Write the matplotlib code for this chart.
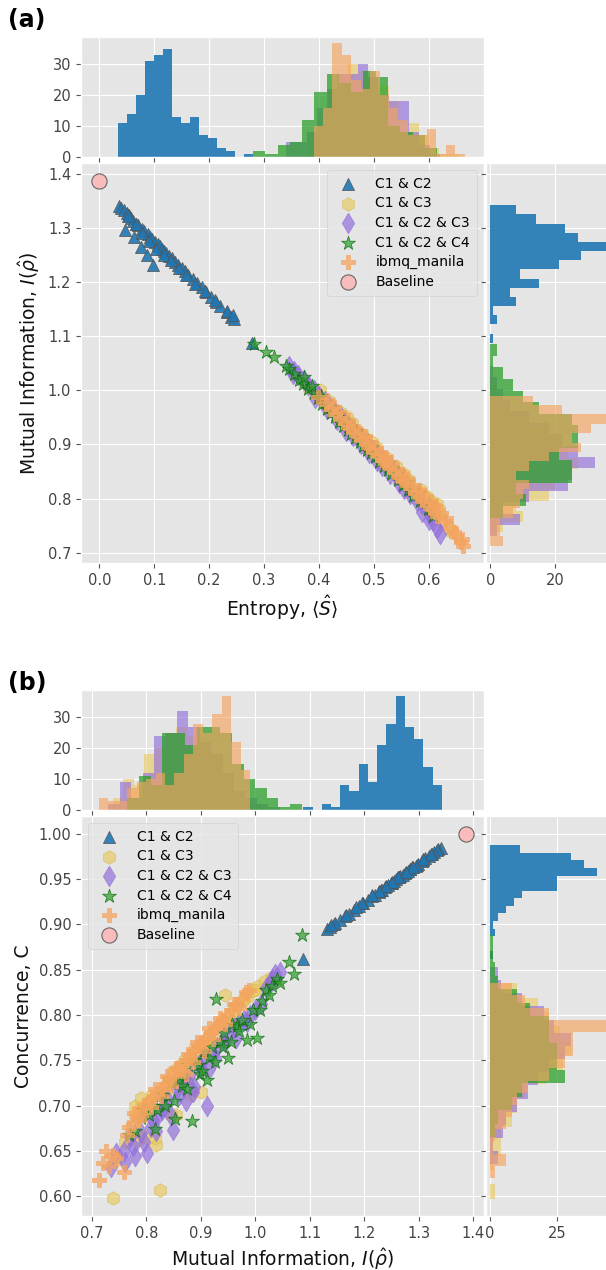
import matplotlib
matplotlib.use('Agg')
import matplotlib.pyplot as plt
import numpy as np

plt.style.use('ggplot')
plt.rcParams['font.family'] = ['DejaVu Sans']

# ---- scatter data: entropy S, mutual information MI, concurrence C ----
c12_S = [0.036, 0.040, 0.044, 0.047, 0.050, 0.054, 0.058, 0.062, 0.063, 0.066, 0.070, 0.075, 0.078, 0.082, 0.086,
         0.088, 0.092, 0.096, 0.098, 0.102, 0.106, 0.110, 0.114, 0.118, 0.122, 0.127, 0.132, 0.138, 0.144, 0.150,
         0.156, 0.162, 0.170, 0.178, 0.186, 0.195, 0.204, 0.212, 0.220, 0.232, 0.240, 0.245, 0.278,
         0.052, 0.066, 0.078, 0.090, 0.104, 0.118, 0.130, 0.145, 0.158, 0.175, 0.192, 0.210, 0.232, 0.243]
c12_MI = [1.340, 1.336, 1.333, 1.297, 1.328, 1.324, 1.318, 1.312, 1.283, 1.308, 1.305, 1.264, 1.298, 1.294, 1.250,
          1.288, 1.284, 1.280, 1.231, 1.274, 1.270, 1.266, 1.262, 1.258, 1.254, 1.249, 1.244, 1.238, 1.232, 1.226,
          1.220, 1.214, 1.206, 1.198, 1.190, 1.181, 1.172, 1.164, 1.156, 1.144, 1.136, 1.131, 1.088,
          1.322, 1.308, 1.290, 1.276, 1.262, 1.250, 1.240, 1.226, 1.214, 1.196, 1.184, 1.166, 1.146, 1.139]
c12_C = [0.985, 0.983, 0.982, 0.966, 0.980, 0.978, 0.976, 0.973, 0.961, 0.971, 0.970, 0.952, 0.967, 0.965, 0.946,
         0.963, 0.961, 0.959, 0.938, 0.957, 0.955, 0.953, 0.952, 0.950, 0.948, 0.946, 0.944, 0.941, 0.938, 0.936,
         0.933, 0.931, 0.927, 0.924, 0.920, 0.916, 0.912, 0.909, 0.905, 0.900, 0.897, 0.895, 0.862,
         0.978, 0.972, 0.964, 0.958, 0.952, 0.947, 0.943, 0.937, 0.932, 0.924, 0.919, 0.911, 0.902, 0.899]

c13_S = [0.642, 0.636, 0.622, 0.612, 0.601, 0.596, 0.592, 0.583, 0.572, 0.565, 0.560, 0.553, 0.545, 0.536, 0.530,
         0.522, 0.515, 0.505, 0.498, 0.495, 0.484, 0.477, 0.470, 0.462, 0.450, 0.441, 0.432, 0.420, 0.412, 0.401,
         0.392, 0.382, 0.370, 0.356,
         0.619, 0.604, 0.594, 0.586, 0.564, 0.554, 0.541, 0.524, 0.504, 0.496, 0.479, 0.460, 0.451, 0.439, 0.419,
         0.401, 0.614]
c13_MI = [0.738, 0.745, 0.760, 0.772, 0.780, 0.785, 0.790, 0.800, 0.810, 0.818, 0.825, 0.830, 0.840, 0.848, 0.855,
          0.862, 0.870, 0.880, 0.885, 0.890, 0.900, 0.908, 0.915, 0.925, 0.935, 0.945, 0.955, 0.965, 0.975, 0.985,
          0.995, 1.005, 1.018, 1.030,
          0.780, 0.795, 0.805, 0.815, 0.835, 0.845, 0.860, 0.875, 0.895, 0.905, 0.920, 0.940, 0.950, 0.960, 0.980,
          1.000, 0.790]
c13_C = [0.598, 0.640, 0.660, 0.668, 0.690, 0.662, 0.698, 0.700, 0.712, 0.656, 0.607, 0.716, 0.728, 0.738, 0.690,
         0.745, 0.750, 0.712, 0.758, 0.764, 0.715, 0.772, 0.778, 0.785, 0.790, 0.822, 0.800, 0.810, 0.815, 0.820,
         0.826, 0.832, 0.838, 0.842,
         0.700, 0.666, 0.705, 0.664, 0.722, 0.690, 0.740, 0.726, 0.760, 0.768, 0.770, 0.795, 0.790, 0.805, 0.818,
         0.828, 0.708]

c123_S = [0.620, 0.615, 0.608, 0.602, 0.598, 0.588, 0.582, 0.570, 0.562, 0.553, 0.546, 0.538, 0.532, 0.521, 0.516,
          0.506, 0.500, 0.490, 0.482, 0.476, 0.468, 0.458, 0.448, 0.440, 0.430, 0.420, 0.410, 0.400, 0.390, 0.380,
          0.372, 0.362, 0.355, 0.345,
          0.600, 0.588, 0.578, 0.566, 0.554, 0.546, 0.529, 0.515, 0.506, 0.491, 0.476, 0.462, 0.450, 0.433, 0.414,
          0.393, 0.353]
c123_MI = [0.735, 0.745, 0.758, 0.770, 0.780, 0.790, 0.802, 0.812, 0.822, 0.832, 0.840, 0.848, 0.856, 0.865, 0.872,
           0.880, 0.888, 0.896, 0.905, 0.912, 0.920, 0.930, 0.940, 0.950, 0.960, 0.970, 0.980, 0.990, 1.000, 1.010,
           1.020, 1.028, 1.036, 1.045,
           0.760, 0.775, 0.795, 0.808, 0.818, 0.828, 0.845, 0.860, 0.870, 0.885, 0.900, 0.915, 0.925, 0.945, 0.965,
           0.985, 1.030]
c123_C = [0.632, 0.648, 0.650, 0.665, 0.644, 0.670, 0.648, 0.684, 0.690, 0.700, 0.706, 0.673, 0.718, 0.724, 0.705,
          0.735, 0.721, 0.745, 0.752, 0.700, 0.758, 0.765, 0.772, 0.778, 0.786, 0.790, 0.795, 0.800, 0.806, 0.812,
          0.830, 0.836, 0.845, 0.848,
          0.638, 0.655, 0.660, 0.676, 0.672, 0.695, 0.688, 0.712, 0.730, 0.715, 0.742, 0.740, 0.752, 0.770, 0.775,
          0.792, 0.840]

c124_S = [0.608, 0.598, 0.584, 0.572, 0.562, 0.553, 0.543, 0.532, 0.526, 0.518, 0.510, 0.502, 0.494, 0.488, 0.480,
          0.474, 0.466, 0.458, 0.452, 0.444, 0.436, 0.430, 0.422, 0.414, 0.406, 0.398, 0.390, 0.380, 0.370, 0.364,
          0.354, 0.346, 0.318, 0.303, 0.282, 0.340,
          0.600, 0.582, 0.570, 0.561, 0.543, 0.526, 0.520, 0.497, 0.489, 0.478, 0.467, 0.452, 0.437, 0.423, 0.404,
          0.388, 0.372]
c124_MI = [0.768, 0.780, 0.795, 0.805, 0.815, 0.825, 0.835, 0.845, 0.852, 0.860, 0.868, 0.876, 0.884, 0.890, 0.898,
           0.905, 0.912, 0.920, 0.927, 0.935, 0.942, 0.950, 0.958, 0.966, 0.975, 0.985, 0.995, 1.003, 1.012, 1.020,
           1.030, 1.040, 1.062, 1.070, 1.085, 1.045,
           0.790, 0.810, 0.820, 0.830, 0.850, 0.865, 0.875, 0.895, 0.902, 0.915, 0.925, 0.940, 0.955, 0.970, 0.990,
           1.008, 1.025]
c124_C = [0.667, 0.672, 0.695, 0.690, 0.674, 0.710, 0.700, 0.725, 0.685, 0.728, 0.735, 0.745, 0.683, 0.750, 0.735,
          0.760, 0.728, 0.765, 0.818, 0.770, 0.780, 0.752, 0.790, 0.788, 0.795, 0.772, 0.805, 0.775, 0.815, 0.828,
          0.832, 0.840, 0.858, 0.845, 0.888, 0.835,
          0.686, 0.700, 0.695, 0.712, 0.705, 0.722, 0.718, 0.745, 0.738, 0.752, 0.748, 0.765, 0.770, 0.782, 0.790,
          0.805, 0.822]

ibmq_S = [0.663, 0.658, 0.660, 0.650, 0.645, 0.640, 0.630, 0.615, 0.612, 0.602, 0.597, 0.588, 0.580, 0.575, 0.566,
          0.558, 0.552, 0.543, 0.537, 0.528, 0.520, 0.515, 0.505, 0.498, 0.490, 0.485, 0.476, 0.468, 0.462, 0.453,
          0.447, 0.438, 0.430, 0.421, 0.412, 0.398,
          0.632, 0.616, 0.611, 0.604, 0.588, 0.582, 0.572, 0.558, 0.551, 0.542, 0.529, 0.520, 0.513, 0.504, 0.492,
          0.483, 0.475, 0.462, 0.452, 0.437, 0.428, 0.414, 0.522]
ibmq_MI = [0.713, 0.720, 0.726, 0.731, 0.738, 0.745, 0.758, 0.768, 0.775, 0.782, 0.790, 0.798, 0.805, 0.812, 0.820,
           0.828, 0.835, 0.842, 0.850, 0.858, 0.865, 0.872, 0.880, 0.888, 0.895, 0.902, 0.910, 0.918, 0.925, 0.932,
           0.940, 0.948, 0.956, 0.965, 0.975, 0.988,
           0.765, 0.778, 0.786, 0.795, 0.808, 0.816, 0.826, 0.838, 0.846, 0.855, 0.868, 0.876, 0.885, 0.893, 0.905,
           0.915, 0.922, 0.935, 0.945, 0.960, 0.970, 0.982, 0.872]
ibmq_C = [0.618, 0.636, 0.650, 0.633, 0.645, 0.642, 0.627, 0.676, 0.680, 0.688, 0.690, 0.697, 0.705, 0.708, 0.714,
          0.718, 0.724, 0.730, 0.733, 0.740, 0.745, 0.750, 0.752, 0.760, 0.766, 0.770, 0.775, 0.780, 0.786, 0.790,
          0.795, 0.800, 0.806, 0.812, 0.818, 0.828,
          0.668, 0.692, 0.684, 0.701, 0.698, 0.718, 0.710, 0.733, 0.722, 0.742, 0.738, 0.757, 0.748, 0.770, 0.760,
          0.786, 0.774, 0.797, 0.790, 0.812, 0.808, 0.825, 0.735]

base_S = [0.0]
base_MI = [1.386]
base_C = [1.0]

# ---- histogram bin counts (range lo, hi) ----
S_rng = [(0.034, 0.280), (0.380, 0.655), (0.340, 0.620), (0.280, 0.615), (0.390, 0.665)]
S_cnt = [[11, 14, 20, 31, 33, 35, 13, 11, 13, 7, 6, 3, 2, 0, 1],
         [8, 14, 22, 27, 30, 28, 25, 23, 18, 8, 11, 7, 3, 1, 1],
         [5, 5, 8, 16, 22, 27, 27, 30, 26, 20, 18, 18, 8, 4, 1],
         [2, 1, 4, 5, 12, 21, 27, 24, 21, 28, 26, 10, 8, 7, 3],
         [10, 16, 37, 33, 25, 22, 28, 20, 16, 12, 7, 7, 9, 1, 4, 1]]

MI_rng = [(1.088, 1.342), (0.738, 1.030), (0.730, 1.045), (0.765, 1.085), (0.713, 0.990)]
MI_cnt = [[1, 0, 2, 1, 8, 6, 15, 9, 21, 28, 37, 27, 23, 14, 8],
          [4, 10, 8, 18, 20, 25, 27, 24, 22, 18, 12, 6, 3, 2, 1],
          [2, 9, 4, 12, 24, 25, 32, 27, 22, 18, 12, 6, 4, 2, 1],
          [4, 11, 8, 25, 25, 21, 27, 27, 25, 15, 10, 7, 4, 1, 2],
          [4, 3, 3, 7, 9, 10, 12, 8, 12, 18, 28, 25, 31, 37, 22, 13]]

C_rng = [(0.862, 0.9875), (0.597, 0.835), (0.635, 0.853), (0.665, 0.888), (0.620, 0.835)]
C_cnt = [[1, 0, 0, 2, 1, 3, 6, 9, 12, 25, 25, 40, 35, 30, 11],
         [2, 0, 1, 4, 4, 8, 10, 13, 21, 27, 30, 26, 22, 18, 10],
         [3, 1, 5, 6, 10, 14, 18, 22, 28, 30, 24, 20, 12, 4, 3],
         [2, 3, 8, 12, 28, 25, 25, 22, 22, 15, 10, 3, 2, 1, 1],
         [2, 6, 1, 2, 6, 8, 10, 14, 22, 28, 31, 31, 45, 22, 13, 8]]

labels = ['C1 & C2', 'C1 & C3', 'C1 & C2 & C3', 'C1 & C2 & C4', 'ibmq_manila']
S_all = [c12_S, c13_S, c123_S, c124_S, ibmq_S]
MI_all = [c12_MI, c13_MI, c123_MI, c124_MI, ibmq_MI]
C_all = [c12_C, c13_C, c123_C, c124_C, ibmq_C]

colors = ['#1f77b4', '#e8c95a', '#9370db', '#2ca02c', '#f4a460']
hist_alpha = [0.9, 0.6, 0.65, 0.75, 0.65]
markers = ['^', 'h', 'd', '*', 'P']
msize = [75, 95, 110, 110, 100]
medge = ['#555555', '#d8b850', '#9370db', 'darkgreen', '#f4a460']
malpha = [0.9, 0.65, 0.7, 0.7, 0.75]

W, H = 606, 1270
fig = plt.figure(figsize=(W / 100, H / 100), dpi=100)


def rect(l, t, r, b):
    return [l / W, 1 - b / H, (r - l) / W, (b - t) / H]


def panel(top, xs, ys, xrng, xcnt, yrng, ycnt, xlim, ylim, xlab, ylab, leg_loc, hxlim, hxt, xt, yt):
    ax = fig.add_axes(rect(81, top + 126, 484, top + 526))
    axt = fig.add_axes(rect(81, top, 484, top + 120), sharex=ax)
    axr = fig.add_axes(rect(486, top + 126, 617, top + 526), sharey=ax)

    for i in range(5):
        ax.scatter(xs[i], ys[i], marker=markers[i], s=msize[i], color=colors[i], alpha=malpha[i],
                   edgecolors=medge[i], linewidths=0.6, label=labels[i], zorder=2)
    ax.scatter(xs[5], ys[5], marker='o', s=120, color='#f9bcbc', edgecolors='#666666',
               linewidths=0.8, label='Baseline', zorder=3)

    for i in range(5):
        e = np.linspace(xrng[i][0], xrng[i][1], len(xcnt[i]) + 1)
        axt.stairs(xcnt[i], e, fill=True, color=colors[i], alpha=hist_alpha[i], linewidth=0)
        e = np.linspace(yrng[i][0], yrng[i][1], len(ycnt[i]) + 1)
        axr.stairs(ycnt[i], e, fill=True, color=colors[i], alpha=hist_alpha[i], linewidth=0,
                   orientation='horizontal')

    ax.set_xlim(*xlim)
    ax.set_ylim(*ylim)
    ax.set_xticks(xt)
    ax.set_yticks(yt)
    axt.set_ylim(0, 38.9)
    axt.set_yticks([0, 10, 20, 30])
    axr.set_xlim(*hxlim)
    axr.set_xticks(hxt)
    plt.setp(axt.get_xticklabels(), visible=False)
    plt.setp(axr.get_yticklabels(), visible=False)

    for a in (ax, axt, axr):
        a.tick_params(labelsize=10.5, colors='#555555', labelcolor='#444444')
    ax.set_xlabel(xlab, fontsize=13.5, color='#111111')
    ax.set_ylabel(ylab, fontsize=13.5, color='#111111')
    ax.legend(loc=leg_loc, fontsize=10, markerscale=1.0, labelspacing=0.4,
              handletextpad=1.0, borderpad=0.5)
    return ax


panel(37, S_all + [base_S], MI_all + [base_MI], S_rng, S_cnt, MI_rng, MI_cnt,
      (-0.0335, 0.7005), (0.681, 1.42), r'Entropy, $\langle\hat{S}\rangle$', r'Mutual Information, $I(\hat{\rho})$',
      'upper right', (-1.3, 38.9), [0, 20],
      [0.0, 0.1, 0.2, 0.3, 0.4, 0.5, 0.6], [0.7, 0.8, 0.9, 1.0, 1.1, 1.2, 1.3, 1.4])

ax_b = panel(690, MI_all + [base_MI], C_all + [base_C], MI_rng, MI_cnt, C_rng, C_cnt,
             (0.680, 1.4195), (0.578, 1.0198), r'Mutual Information, $I(\hat{\rho})$', 'Concurrence, C',
             'upper left', (-1.5, 47.3), [0, 25],
             [0.7, 0.8, 0.9, 1.0, 1.1, 1.2, 1.3, 1.4],
             [0.60, 0.65, 0.70, 0.75, 0.80, 0.85, 0.90, 0.95, 1.00])
ax_b.yaxis.set_major_formatter(matplotlib.ticker.FormatStrFormatter('%.2f'))

fig.text(0.013, 1 - 20 / H, '(a)', fontsize=17, fontweight='bold', va='center', ha='left')
fig.text(0.013, 1 - 683 / H, '(b)', fontsize=17, fontweight='bold', va='center', ha='left')

fig.savefig('out.png', dpi=100)
